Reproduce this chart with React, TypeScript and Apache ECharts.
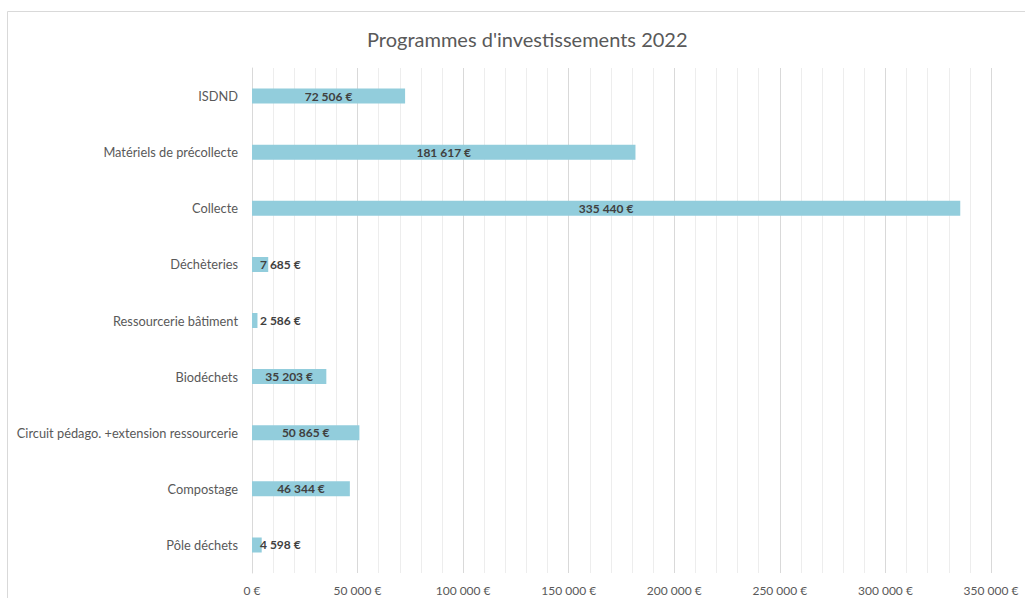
import React, { useEffect, useRef } from "react";
import * as echarts from "echarts";

const categories = [
  "ISDND",
  "Matériels de précollecte",
  "Collecte",
  "Déchèteries",
  "Ressourcerie bâtiment",
  "Biodéchets",
  "Circuit pédago. +extension ressourcerie",
  "Compostage",
  "Pôle déchets",
];
const values = [72506, 181617, 335440, 7685, 2586, 35203, 50865, 46344, 4598];
const titleText = "Programmes d'investissements 2022";
const FONT = "Lato, 'Open Sans', sans-serif";

function fmt(v: number): string {
  const s = Math.round(v).toString().replace(/\B(?=(\d{3})+(?!\d))/g, "\u00a0");
  return s + "\u00a0€";
}

export default function App() {
  const ref = useRef<HTMLDivElement>(null);
  useEffect(() => {
    if (!ref.current) return;
    const chart = echarts.init(ref.current, undefined, { renderer: "svg" });
    const data = values.map((v) => {
      if (v < 15000) {
        return {
          value: v,
          label: { position: "insideLeft", distance: 8 },
        };
      }
      return { value: v };
    });
    chart.setOption({
      animation: false,
      backgroundColor: "#ffffff",
      title: {
        text: titleText,
        left: 362,
        top: 24,
        textStyle: { fontFamily: FONT, fontSize: 20, fontWeight: "normal", color: "#595959" },
      },
      graphic: [
        {
          type: "rect",
          shape: { x: 7.5, y: 11.5, width: 1040, height: 620 },
          style: { fill: "none", stroke: "#D9D9D9", lineWidth: 1 },
          silent: true,
        },
      ],
      grid: { left: 252, right: 34, top: 68, bottom: 25, containLabel: false },
      xAxis: {
        type: "value",
        min: 0,
        max: 350000,
        interval: 50000,
        axisLine: { show: false },
        axisTick: { show: false },
        axisLabel: {
          fontFamily: FONT,
          fontSize: 12,
          color: "#595959",
          margin: 11,
          formatter: (v: number) => fmt(v),
        },
        splitLine: { show: true, lineStyle: { color: "#D9D9D9", width: 1 } },
        minorTick: { show: false, splitNumber: 5 },
        minorSplitLine: { show: true, lineStyle: { color: "#EDEDED", width: 1 } },
      },
      yAxis: {
        type: "category",
        data: categories,
        inverse: true,
        axisLine: { show: true, lineStyle: { color: "#D9D9D9" } },
        axisTick: { show: false },
        axisLabel: { fontFamily: FONT, fontSize: 12.8, color: "#595959", margin: 14 },
      },
      series: [
        {
          type: "bar",
          data,
          barWidth: 15,
          itemStyle: { color: "#92CDDC" },
          label: {
            show: true,
            position: "inside",
            fontFamily: FONT,
            fontSize: 12,
            fontWeight: "bold",
            color: "#404040",
            formatter: (p: any) => fmt(p.value),
          },
        },
      ],
    });
    return () => chart.dispose();
  }, []);
  return (
    <div
      ref={ref}
      style={{ position: "fixed", left: 0, top: 0, width: 1025, height: 598, background: "#fff" }}
    />
  );
}
